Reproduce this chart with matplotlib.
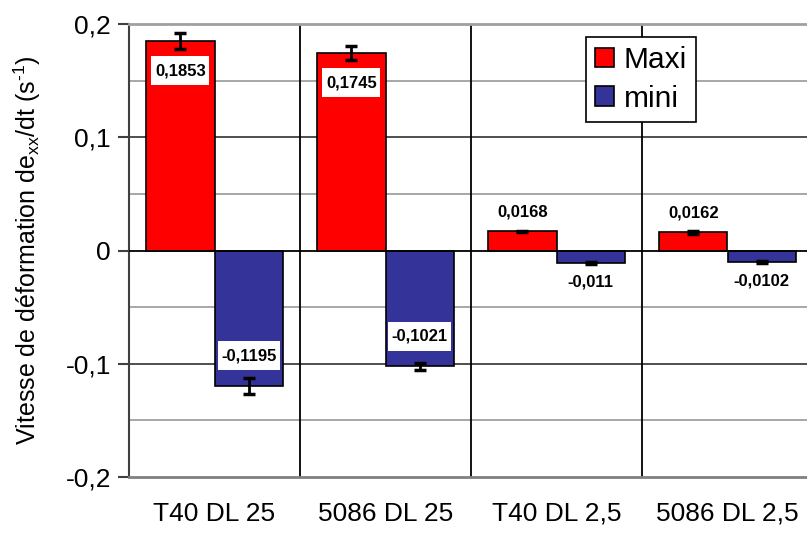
import numpy as np
import matplotlib.pyplot as plt
import matplotlib as mpl
from matplotlib.patches import Rectangle
from matplotlib.transforms import IdentityTransform

# data
CATEGORIES = ["T40 DL 25", "5086 DL 25", "T40 DL 2,5", "5086 DL 2,5"]
SERIES = ["Maxi", "mini"]
MAXI = [0.1853, 0.1745, 0.0168, 0.0162]
MINI = [-0.1195, -0.1021, -0.011, -0.0102]
MAXI_ERR = [0.007, 0.006, 0.0008, 0.0012]
MINI_ERR = [0.007, 0.003, 0.0008, 0.0006]
YTICKS = [-0.2, -0.1, 0, 0.1, 0.2]
YTICK_LABELS = ["-0,2", "-0,1", "0", "0,1", "0,2"]

COLORS = ["#FF0000", "#333399"]


def fmt(v):
    return f"{v:g}".replace(".", ",")


mpl.rcParams.update({
    "font.family": ["Liberation Sans", "DejaVu Sans"],
    "mathtext.fontset": "custom",
    "mathtext.rm": "Liberation Sans",
    "mathtext.it": "Liberation Sans:italic",
    "axes.unicode_minus": False,
})

fig = plt.figure(figsize=(8.07, 5.33), dpi=100)
ax = fig.add_axes([129 / 807, 56 / 533, 684 / 807, 453 / 533])

x = np.arange(len(CATEGORIES))
w = 0.4
boxed = []
for vals, errs, color, name, off in [(MAXI, MAXI_ERR, COLORS[0], SERIES[0], -w / 2),
                                      (MINI, MINI_ERR, COLORS[1], SERIES[1], w / 2)]:
    ax.bar(x + off, vals, width=w, color=color, edgecolor="black", linewidth=1.2,
           label=name, zorder=3)
    ax.errorbar(x + off, vals, yerr=errs, fmt="none", ecolor="black", elinewidth=2,
                capsize=4.5, capthick=2.5, zorder=4)
    for xi, v in zip(x + off, vals):
        s = np.sign(v)
        inside = abs(v) > 0.05
        y = v - s * 0.0265 if inside else v + s * 0.0168
        t = ax.text(xi, y, fmt(v), ha="center", va="center", fontsize=12,
                    fontweight="bold", zorder=5)
        if inside:
            boxed.append(t)

ax.set_xlim(-0.5, len(CATEGORIES) - 0.5)
ax.set_ylim(-0.2, 0.2)
ax.set_yticks(YTICKS)
ax.set_yticklabels(YTICK_LABELS, fontsize=19)
ax.set_xticks(x)
ax.set_xticklabels(CATEGORIES, fontsize=19)
ax.tick_params(axis="x", length=0, pad=18)
ax.tick_params(axis="y", length=8, width=1.5, color="#404040", pad=5)

# gridlines
for yv in [-0.15, -0.05, 0.05, 0.15]:
    ax.axhline(yv, color="#a0a0a0", linewidth=1.3, zorder=1)
for yv in [-0.1, 0.1]:
    ax.axhline(yv, color="#404040", linewidth=1.3, zorder=1)
ax.axhline(0, color="black", linewidth=1.3, zorder=3.5)
for xv in x[:-1] + 0.5:
    ax.axvline(xv, color="black", linewidth=1.3, zorder=1)

ax.spines["right"].set_visible(False)
ax.spines["top"].set_color("#a0a0a0")
ax.spines["top"].set_linewidth(2)
ax.spines["bottom"].set_color("#808080")
ax.spines["bottom"].set_linewidth(2)
ax.spines["left"].set_color("#404040")
ax.spines["left"].set_linewidth(1.5)

ax.set_ylabel(r"Vitesse de déformation de$_{\mathrm{xx}}$/dt (s$^{\text{-1}}$)",
              fontsize=18, labelpad=16)

leg = ax.legend(loc="upper left", bbox_to_anchor=(0.668, 0.971), borderaxespad=0,
                fontsize=21.5, frameon=True, fancybox=False, framealpha=1,
                edgecolor="black", handlelength=0.63, handleheight=0.63,
                handletextpad=0.33, borderpad=0.3, labelspacing=0.35)
leg.get_frame().set_linewidth(1.2)

# white label boxes, wider padding vertically than horizontally (Excel style)
renderer = fig.canvas.get_renderer()
for t in boxed:
    bb = t.get_window_extent(renderer)
    px, py = 3.5, 7
    ax.add_patch(Rectangle((bb.x0 - px, bb.y0 - py), bb.width + 2 * px, bb.height + 2 * py,
                           transform=IdentityTransform(), facecolor="white",
                           edgecolor="none", zorder=4.8))

fig.savefig("out.png", dpi=100, facecolor="white")
